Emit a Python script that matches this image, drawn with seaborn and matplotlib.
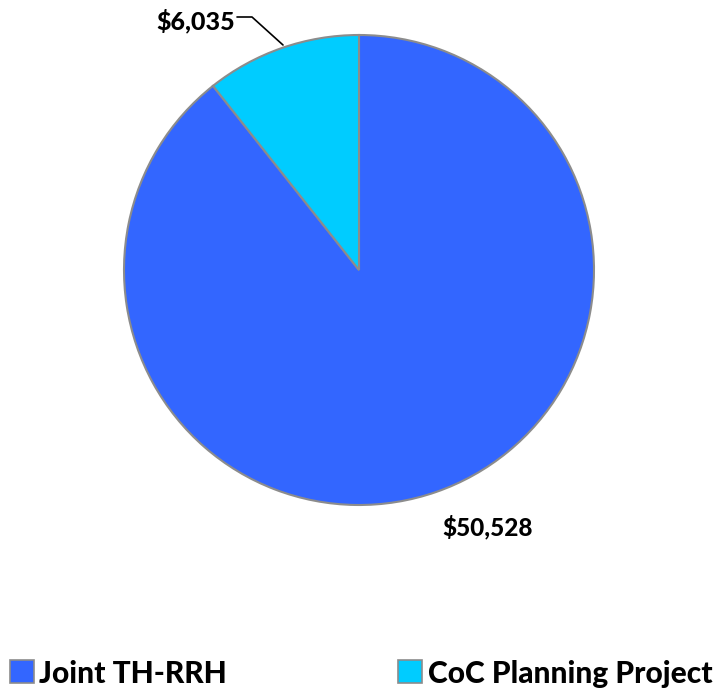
import matplotlib
matplotlib.use("Agg")
import matplotlib.pyplot as plt
from matplotlib.patches import Rectangle
import seaborn as sns

categories = ["Joint TH-RRH", "CoC Planning Project"]
values = [50528, 6035]
value_labels = ["$50,528", "$6,035"]

sns.set_theme(style="white")
plt.rcParams['font.family'] = ['Lato', 'DejaVu Sans']

colors = ["#3366FF", "#00CCFF"]

W, H = 721, 689
fig = plt.figure(figsize=(W / 100, H / 100), dpi=100)
cx, cy, r = 359, 270, 235
ax = fig.add_axes([(cx - r) / W, (H - cy - r) / H, 2 * r / W, 2 * r / H])
wedges, _ = ax.pie(values, colors=colors, startangle=90, counterclock=False,
                   wedgeprops=dict(edgecolor="#8c8c8c", linewidth=1.5))
ax.set_xlim(-1, 1)
ax.set_ylim(-1, 1)
ax.set_aspect("equal")
ax.axis("off")

def px(x, y):
    return ((x - cx) / r, (cy - y) / r)

# data labels
ax.text(*px(488, 527), value_labels[0], ha="center", va="center",
        fontsize=17.5, fontweight="black", color="black", clip_on=False)
ax.text(*px(196, 21), value_labels[1], ha="center", va="center",
        fontsize=18, fontweight="black", color="black", clip_on=False)
lx, ly = zip(px(237, 17), px(252, 17), px(283, 45))
ax.plot(lx, ly, color="black", linewidth=1.2, clip_on=False)

# legend (manual placement)
sq_x = [10, 398]
txt_x = [39, 428]
for c, lab, sx, tx in zip(colors, categories, sq_x, txt_x):
    fig.add_artist(Rectangle((sx / W, (H - 683) / H), 24 / W, 23 / H,
                             transform=fig.transFigure, facecolor=c,
                             edgecolor="#8c8c8c", linewidth=1.2))
    fig.text(tx / W, (H - 683) / H, lab, ha="left", va="baseline",
             fontsize=21.5, fontweight="black", family="Lato", color="black")

fig.savefig("out.png", dpi=100)
